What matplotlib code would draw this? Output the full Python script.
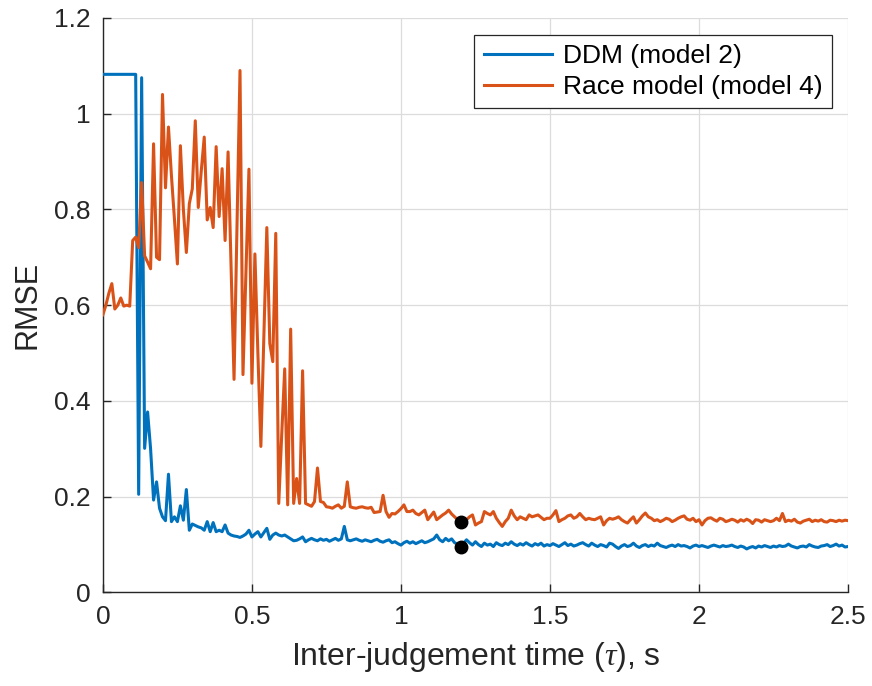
import numpy as np
import matplotlib
matplotlib.use("Agg")
import matplotlib.pyplot as plt

plt.rcParams['font.family'] = ['Liberation Sans', 'DejaVu Sans']
plt.rcParams['mathtext.fontset'] = 'custom'
plt.rcParams['mathtext.it'] = 'Liberation Serif:italic'

tau_step = 0.01

rmse_ddm = [
    1.082, 1.082, 1.082, 1.082, 1.082, 1.082, 1.082, 1.082, 1.082, 1.082,
    1.082, 1.082, 0.205, 1.075, 0.301, 0.377, 0.300, 0.193, 0.231, 0.176,
    0.158, 0.150, 0.247, 0.148, 0.158, 0.148, 0.181, 0.151, 0.215, 0.130,
    0.143, 0.140, 0.137, 0.135, 0.130, 0.148, 0.127, 0.146, 0.127, 0.130,
    0.127, 0.141, 0.124, 0.120, 0.118, 0.117, 0.115, 0.118, 0.122, 0.130,
    0.116, 0.122, 0.127, 0.116, 0.125, 0.134, 0.111, 0.120, 0.124, 0.120,
    0.118, 0.120, 0.116, 0.112, 0.108, 0.109, 0.112, 0.116, 0.106, 0.110,
    0.113, 0.110, 0.108, 0.112, 0.109, 0.111, 0.107, 0.110, 0.113, 0.109,
    0.112, 0.138, 0.110, 0.108, 0.110, 0.112, 0.109, 0.107, 0.110, 0.108,
    0.106, 0.109, 0.111, 0.107, 0.105, 0.108, 0.110, 0.104, 0.106, 0.102,
    0.099, 0.104, 0.107, 0.103, 0.106, 0.102, 0.105, 0.108, 0.104, 0.106,
    0.109, 0.112, 0.120, 0.110, 0.106, 0.113, 0.108, 0.112, 0.104, 0.101,
    0.096, 0.103, 0.110, 0.104, 0.099, 0.106, 0.100, 0.096, 0.103, 0.099,
    0.101, 0.096, 0.104, 0.100, 0.098, 0.103, 0.100, 0.106, 0.101, 0.098,
    0.102, 0.099, 0.104, 0.100, 0.097, 0.102, 0.099, 0.103, 0.097, 0.100,
    0.098, 0.102, 0.099, 0.096, 0.100, 0.104, 0.098, 0.101, 0.097, 0.099,
    0.102, 0.104, 0.100, 0.097, 0.103, 0.099, 0.096, 0.100, 0.098, 0.095,
    0.103, 0.101, 0.096, 0.092, 0.097, 0.100, 0.096, 0.098, 0.103, 0.097,
    0.094, 0.098, 0.100, 0.096, 0.099, 0.097, 0.103, 0.098, 0.096, 0.094,
    0.097, 0.099, 0.096, 0.100, 0.097, 0.098, 0.096, 0.093, 0.097, 0.099,
    0.096, 0.098, 0.096, 0.094, 0.097, 0.099, 0.097, 0.095, 0.098, 0.096,
    0.097, 0.099, 0.096, 0.094, 0.097, 0.095, 0.091, 0.094, 0.096, 0.093,
    0.097, 0.095, 0.098, 0.096, 0.094, 0.097, 0.095, 0.098, 0.096, 0.097,
    0.101, 0.097, 0.095, 0.093, 0.096, 0.097, 0.095, 0.100, 0.097, 0.095,
    0.094, 0.097, 0.098, 0.100, 0.096, 0.098, 0.101, 0.097, 0.099, 0.095,
    0.096,
]

rmse_race = [
    0.580, 0.600, 0.625, 0.645, 0.592, 0.600, 0.615, 0.598, 0.600, 0.598,
    0.735, 0.742, 0.720, 0.856, 0.703, 0.690, 0.676, 0.937, 0.700, 0.695,
    1.040, 0.845, 0.972, 0.870, 0.780, 0.686, 0.933, 0.800, 0.710, 0.812,
    0.843, 0.985, 0.804, 0.880, 0.951, 0.778, 0.804, 0.762, 0.931, 0.785,
    0.885, 0.735, 0.920, 0.680, 0.445, 0.770, 1.090, 0.455, 0.670, 0.884,
    0.437, 0.707, 0.500, 0.305, 0.530, 0.762, 0.520, 0.482, 0.750, 0.186,
    0.330, 0.467, 0.183, 0.550, 0.186, 0.238, 0.186, 0.463, 0.186, 0.183,
    0.180, 0.190, 0.260, 0.190, 0.188, 0.179, 0.178, 0.176, 0.180, 0.183,
    0.176, 0.180, 0.231, 0.179, 0.177, 0.176, 0.178, 0.179, 0.177, 0.176,
    0.178, 0.167, 0.168, 0.169, 0.203, 0.169, 0.157, 0.165, 0.164, 0.169,
    0.175, 0.183, 0.169, 0.169, 0.172, 0.165, 0.162, 0.167, 0.172, 0.152,
    0.160, 0.168, 0.152, 0.157, 0.162, 0.166, 0.172, 0.164, 0.158, 0.152,
    0.148, 0.150, 0.152, 0.158, 0.162, 0.141, 0.145, 0.148, 0.169, 0.165,
    0.162, 0.169, 0.155, 0.146, 0.138, 0.148, 0.155, 0.172, 0.160, 0.152,
    0.158, 0.155, 0.152, 0.162, 0.158, 0.160, 0.162, 0.157, 0.152, 0.155,
    0.155, 0.162, 0.171, 0.148, 0.152, 0.155, 0.160, 0.162, 0.155, 0.158,
    0.165, 0.158, 0.152, 0.155, 0.153, 0.152, 0.155, 0.158, 0.141, 0.150,
    0.155, 0.153, 0.155, 0.158, 0.152, 0.148, 0.145, 0.152, 0.158, 0.145,
    0.152, 0.160, 0.166, 0.158, 0.155, 0.150, 0.152, 0.148, 0.151, 0.155,
    0.153, 0.148, 0.151, 0.155, 0.158, 0.160, 0.153, 0.151, 0.155, 0.148,
    0.152, 0.141, 0.150, 0.155, 0.156, 0.152, 0.149, 0.155, 0.153, 0.148,
    0.150, 0.153, 0.151, 0.147, 0.152, 0.149, 0.153, 0.150, 0.144, 0.152,
    0.151, 0.147, 0.152, 0.150, 0.148, 0.150, 0.155, 0.150, 0.165, 0.148,
    0.151, 0.149, 0.153, 0.147, 0.145, 0.149, 0.151, 0.153, 0.148, 0.151,
    0.149, 0.152, 0.148, 0.147, 0.151, 0.150, 0.148, 0.151, 0.149, 0.151,
    0.150,
]

best_tau = 1.2
labels = ['DDM (model 2)', 'Race model (model 4)']
colors = ['#0072BD', '#D95319']
x_ticks = [0, 0.5, 1, 1.5, 2, 2.5]
x_tick_labels = ['0', '0.5', '1', '1.5', '2', '2.5']
y_ticks = [0, 0.2, 0.4, 0.6, 0.8, 1.0, 1.2]
y_tick_labels = ['0', '0.2', '0.4', '0.6', '0.8', '1', '1.2']

tau_ddm = np.arange(len(rmse_ddm)) * tau_step
tau_race = np.arange(len(rmse_race)) * tau_step

fig = plt.figure(figsize=(8.72, 6.86), dpi=100)
ax = fig.add_axes([0.118, 0.1363, 0.8545, 0.8377])

ax.plot(tau_ddm, rmse_ddm, color=colors[0], lw=2.2, label=labels[0], zorder=3)
ax.plot(tau_race, rmse_race, color=colors[1], lw=2.2, label=labels[1], zorder=3)

bi = int(round(best_tau / tau_step))
ax.plot([best_tau, best_tau], [rmse_race[bi], rmse_ddm[bi]], 'o', color='black',
        markersize=9, linestyle='none', zorder=4)

ax.set_xlim(0, 2.5)
ax.set_ylim(0, 1.2)
ax.set_xticks(x_ticks)
ax.set_xticklabels(x_tick_labels)
ax.set_yticks(y_ticks)
ax.set_yticklabels(y_tick_labels)
ax.grid(True, color='#dcdcdc', lw=0.9)
ax.set_axisbelow(True)

for s in ['top', 'right']:
    ax.spines[s].set_visible(False)
for s in ['left', 'bottom']:
    ax.spines[s].set_color('#262626')
    ax.spines[s].set_linewidth(1.0)

ax.tick_params(direction='in', length=6, width=1.0, colors='#262626',
               labelsize=19, pad=9)
for t in ax.get_xticklabels() + ax.get_yticklabels():
    t.set_color('#262626')

ax.set_xlabel(r'Inter-judgement time ($\tau$), s', fontsize=23, color='#262626', labelpad=8)
ax.set_ylabel('RMSE', fontsize=22, color='#262626', labelpad=8)

leg = ax.legend(loc='upper right', bbox_to_anchor=(0.978, 0.97), fontsize=19,
                frameon=True, fancybox=False, handlelength=2.6, handletextpad=0.4,
                borderpad=0.35, labelspacing=0.25, borderaxespad=0.0)
leg.get_frame().set_edgecolor('#262626')
leg.get_frame().set_linewidth(0.9)
leg.get_frame().set_alpha(1.0)
for line in leg.get_lines():
    line.set_linewidth(2.2)

fig.savefig('out.png', dpi=100)
